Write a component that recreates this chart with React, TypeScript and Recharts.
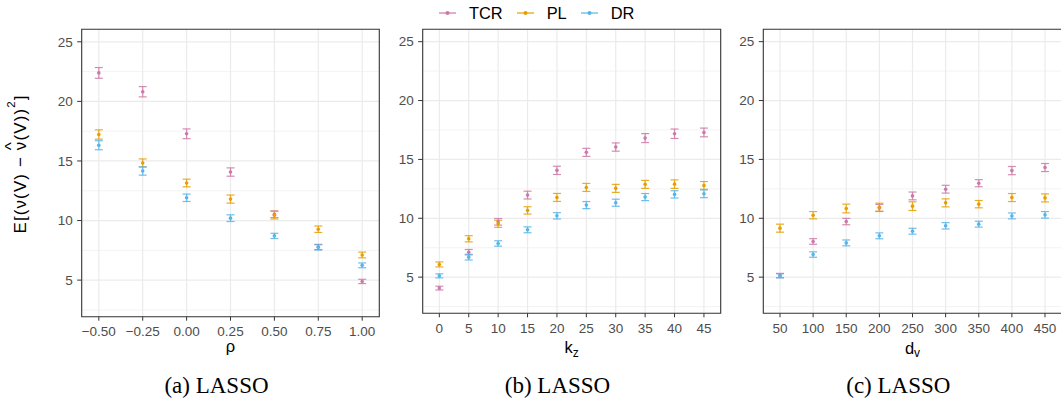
import React from 'react';
import { ScatterChart, Scatter, XAxis, YAxis, CartesianGrid, ErrorBar, ReferenceArea } from 'recharts';

// series names / colours (Okabe-Ito)
const seriesMeta = [
  { name: 'TCR', color: '#CC79A7' },
  { name: 'PL', color: '#E69F00' },
  { name: 'DR', color: '#56B4E9' },
];

// (a) rho
const rhoValues = [-0.5, -0.25, 0, 0.25, 0.5, 0.75, 1.0];
const tcrA = [22.39, 20.81, 17.28, 14.07, 10.53, 7.78, 4.89];
const tcrAErr = [0.45, 0.43, 0.41, 0.35, 0.28, 0.22, 0.18];
const plA = [17.22, 14.83, 13.15, 11.8, 10.45, 9.27, 7.11];
const plAErr = [0.39, 0.34, 0.32, 0.34, 0.32, 0.27, 0.24];
const drA = [16.32, 14.16, 11.91, 10.2, 8.71, 7.75, 6.24];
const drAErr = [0.38, 0.35, 0.31, 0.28, 0.22, 0.22, 0.2];

// (b) k_z
const kzValues = [0, 5, 10, 15, 20, 25, 30, 35, 40, 45];
const tcrB = [4.07, 7.12, 9.7, 11.97, 14.07, 15.6, 16.05, 16.81, 17.18, 17.29];
const tcrBErr = [0.16, 0.23, 0.28, 0.33, 0.35, 0.34, 0.35, 0.38, 0.4, 0.37];
const plB = [6.08, 8.26, 9.53, 10.67, 11.77, 12.62, 12.54, 12.88, 12.9, 12.79];
const plBErr = [0.21, 0.26, 0.3, 0.31, 0.34, 0.34, 0.34, 0.34, 0.36, 0.33];
const drB = [5.11, 6.7, 7.86, 9.02, 10.21, 11.12, 11.32, 11.8, 12.03, 12.08];
const drBErr = [0.17, 0.24, 0.23, 0.25, 0.27, 0.3, 0.3, 0.3, 0.31, 0.33];

// (c) d_v
const dvValues = [50, 100, 150, 200, 250, 300, 350, 400, 450];
const tcrC = [5.14, 8.03, 9.72, 10.88, 11.9, 12.47, 12.98, 14.05, 14.31];
const tcrCErr = [0.18, 0.24, 0.27, 0.3, 0.33, 0.33, 0.3, 0.35, 0.34];
const plC = [9.16, 10.26, 10.83, 10.94, 11.03, 11.31, 11.2, 11.76, 11.73];
const plCErr = [0.34, 0.31, 0.37, 0.34, 0.37, 0.34, 0.31, 0.34, 0.34];
const drC = [5.11, 6.92, 7.91, 8.51, 8.9, 9.36, 9.5, 10.2, 10.29];
const drCErr = [0.17, 0.23, 0.25, 0.25, 0.25, 0.27, 0.25, 0.25, 0.28];

const yTicks = [5, 10, 15, 20, 25];
const yMinor = [2.5, 7.5, 12.5, 17.5, 22.5];
const yDomain: [number, number] = [1.93, 26.05];

const build = (xs: number[], ys: number[], errs: number[]) =>
  xs.map((x, i) => ({ x, y: ys[i], err: errs[i] }));

const withData = (sets: { name: string; color: string }[], data: any[][]) =>
  sets.map((s, i) => ({ ...s, data: data[i] }));

const seriesA = withData(seriesMeta, [build(rhoValues, tcrA, tcrAErr), build(rhoValues, plA, plAErr), build(rhoValues, drA, drAErr)]);
const seriesB = withData(seriesMeta, [build(kzValues, tcrB, tcrBErr), build(kzValues, plB, plBErr), build(kzValues, drB, drBErr)]);
const seriesC = withData(seriesMeta, [build(dvValues, tcrC, tcrCErr), build(dvValues, plC, plCErr), build(dvValues, drC, drCErr)]);

const H = 401;
const X_AXIS_H = 45;

type PanelProps = {
  left: number;
  width: number;
  plot: { x0: number; x1: number; y0: number; y1: number };
  xDomain: [number, number];
  xTicks: number[];
  xFormat: (v: number) => string;
  series: { name: string; color: string; data: { x: number; y: number; err: number }[] }[];
  title: React.ReactNode;
  titleOffset: number;
};

const Panel: React.FC<PanelProps> = ({ left, width, plot, xDomain, xTicks, xFormat, series, title, titleOffset }) => {
  const cx = (plot.x0 + plot.x1) / 2 - left;
  return (
    <div style={{ position: 'absolute', left, top: 0 }}>
      <ScatterChart
        width={width}
        height={H}
        margin={{ top: plot.y0, left: 0, right: left + width - plot.x1, bottom: H - plot.y1 - X_AXIS_H }}
      >
        <CartesianGrid horizontalValues={yMinor} vertical={false} stroke="#EBEBEB" strokeWidth={0.6} />
        <CartesianGrid horizontalValues={yTicks} verticalValues={xTicks} stroke="#EBEBEB" strokeWidth={1.2} />
        <XAxis
          type="number"
          dataKey="x"
          domain={xDomain}
          ticks={xTicks}
          interval={0}
          allowDataOverflow
          axisLine={false}
          tickLine={{ stroke: '#333333' }}
          tickSize={4}
          tickMargin={6}
          tick={{ fill: '#4D4D4D', fontSize: 13.5 }}
          tickFormatter={xFormat}
          height={X_AXIS_H}
          label={() => (
            <text x={cx} y={plot.y1 + titleOffset} textAnchor="middle" fontSize={16.5} fill="#000">
              {title}
            </text>
          )}
        />
        <YAxis
          type="number"
          dataKey="y"
          domain={yDomain}
          ticks={yTicks}
          interval={0}
          allowDataOverflow
          axisLine={false}
          tickLine={{ stroke: '#333333' }}
          tickSize={4.5}
          tickMargin={4.5}
          tick={{ fill: '#4D4D4D', fontSize: 13.5 }}
          width={plot.x0 - left}
        />
        {series.map((s) => (
          <Scatter
            key={s.name}
            name={s.name}
            data={s.data}
            fill={s.color}
            isAnimationActive={false}
            shape={(p: any) => <circle cx={p.cx} cy={p.cy} r={1.8} fill={s.color} />}
          >
            <ErrorBar dataKey="err" direction="y" width={4} stroke={s.color} strokeWidth={1.2} strokeOpacity={0.85} />
          </Scatter>
        ))}
        <ReferenceArea
          x1={xDomain[0]}
          x2={xDomain[1]}
          y1={yDomain[0]}
          y2={yDomain[1]}
          fill="none"
          stroke="#333333"
          strokeWidth={1.1}
          ifOverflow="visible"
        />
      </ScatterChart>
    </div>
  );
};

const fmtRho = (v: number) => (v < 0 ? '\u2212' : '') + Math.abs(v).toFixed(2);
const fmtInt = (v: number) => String(v);

const App: React.FC = () => {
  return (
    <div
      style={{
        position: 'absolute',
        left: 0,
        top: 0,
        width: 1061,
        height: H,
        overflow: 'hidden',
        background: '#fff',
        fontFamily: '"Liberation Sans", Arial, sans-serif',
      }}
    >
      <Panel
        left={0}
        width={390}
        plot={{ x0: 81.7, x1: 379.3, y0: 29.3, y1: 316.7 }}
        xDomain={[-0.5975, 1.0975]}
        xTicks={rhoValues}
        xFormat={fmtRho}
        series={seriesA}
        title="ρ"
        titleOffset={35.5}
      />
      <Panel
        left={385}
        width={345}
        plot={{ x0: 422.7, x1: 720.7, y0: 29.3, y1: 313.3 }}
        xDomain={[-2.83, 47.85]}
        xTicks={kzValues}
        xFormat={fmtInt}
        series={seriesB}
        title={<><tspan>k</tspan><tspan fontSize={12} dy={4}>z</tspan></>}
        titleOffset={39.5}
      />
      <Panel
        left={725}
        width={345}
        plot={{ x0: 763.3, x1: 1061.7, y0: 29.3, y1: 313.3 }}
        xDomain={[24.8, 475.2]}
        xTicks={dvValues}
        xFormat={fmtInt}
        series={seriesC}
        title={<><tspan>d</tspan><tspan fontSize={12} dy={3}>v</tspan></>}
        titleOffset={40.5}
      />

      {/* legend */}
      <div
        style={{
          position: 'absolute',
          left: 439,
          top: 0,
          height: 27,
          display: 'flex',
          alignItems: 'center',
          fontSize: 16.4,
          lineHeight: '16.4px',
          color: '#000',
        }}
      >
        {seriesMeta.map((s) => (
          <div key={s.name} style={{ display: 'flex', alignItems: 'center', marginRight: 14 }}>
            <svg width={17} height={10} style={{ marginRight: 13, marginTop: -2 }}>
              <line x1={0} x2={17} y1={5} y2={5} stroke={s.color} strokeWidth={1.2} />
              <circle cx={8.5} cy={5} r={2} fill={s.color} />
            </svg>
            <span>{s.name}</span>
          </div>
        ))}
      </div>

      {/* y title + captions */}
      <svg width={1061} height={H} style={{ position: 'absolute', left: 0, top: 0, pointerEvents: 'none' }}>
        <text
          transform="translate(25.5,164) rotate(-90)"
          textAnchor="middle"
          fontSize={17}
          letterSpacing={1.1}
          fill="#000"
        >
          <tspan>E[(ν(V)  −  ν</tspan>
          <tspan dx={-9.6} dy={-8.5}>^</tspan>
          <tspan dx={0.6} dy={8.5}>(V))</tspan>
          <tspan dy={-11} fontSize={11.5}>2</tspan>
          <tspan dy={11}>]</tspan>
        </text>
        <g fontFamily='"Liberation Serif", "Times New Roman", serif' fontSize={23} fill="#000" textAnchor="middle">
          <text x={216.5} y={392.7}>(a) LASSO</text>
          <text x={557.5} y={392.7}>(b) LASSO</text>
          <text x={898.3} y={392.7}>(c) LASSO</text>
        </g>
      </svg>
    </div>
  );
};

export default App;
